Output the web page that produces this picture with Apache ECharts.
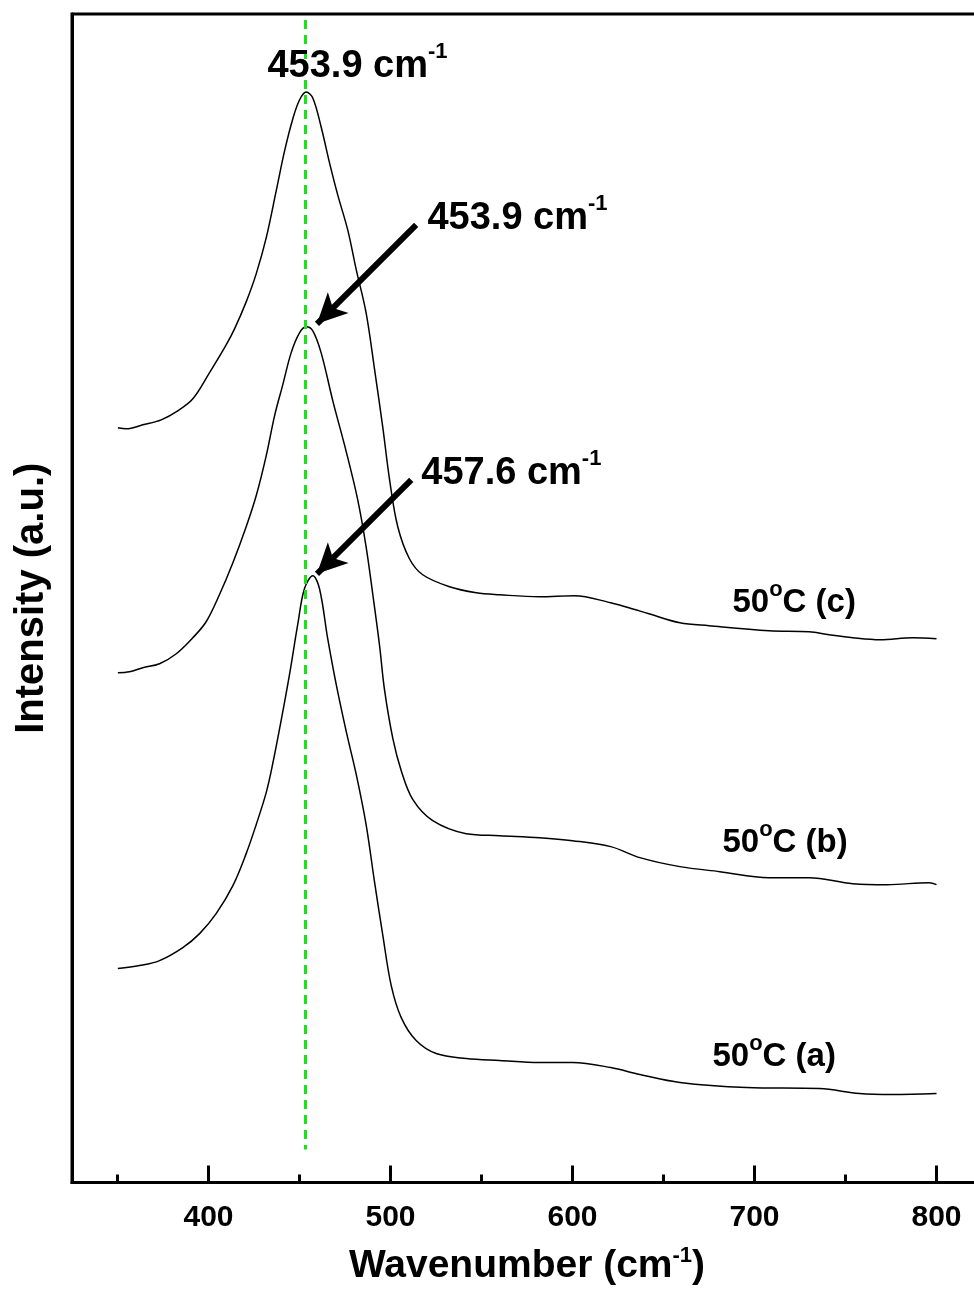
<!DOCTYPE html>
<html>
<head>
<meta charset="utf-8">
<script src="https://cdn.jsdelivr.net/npm/echarts@6/dist/echarts.min.js"></script>
<style>
html,body{margin:0;padding:0;background:#fff;overflow:hidden;}
#chart{width:1000px;height:1291px;}
</style>
</head>
<body>
<div id="chart"></div>
<script>
// Wavenumber (cm^-1) and intensity (a.u.) for the three spectra
const wnA = [350.2,362.1,373.1,385.9,395.1,404.2,413.4,420.7,426.2,431.7,435.3,439.9,444.5,449.1,452.7,457.3,461.0,465.5,470.2,475.7,481.2,486.6,491.2,495.8,500.4,505.9,514.1,525.1,541.6,559.9,581.9,600,621,637,659,695.6,735.7,757.7,775.8,800];
const intA = [214,217,222,235,249,269,297,329,358,390,419,462,508,559,594,607,594,544,498,451,408,358,301,247,197,165,142,129,124,122,120,120,115,108,100,95,94,89,88,89];

const wnB = [350.2,356.6,363.9,373.1,382.3,391.4,398.7,406.0,413.4,420.7,426.2,431.7,436.3,440.8,445.4,450.0,453.7,457.3,461.9,468.3,475.7,482.0,486.6,490.3,494.0,496.7,501.3,505.9,512.3,523.2,541.6,559.9,581.9,600,621,637,659,681,708,730,754,773,796,800];
const intB = [510,511,515,519,529,545,561,588,620,656,687,727,767,798,830,850,856,852,830,782,731,683,636,588,537,493,444,412,383,362,349,347,345,342,336,325,316,311,305,305,299,298,300,298];

const wnC = [350.2,354.8,363.9,374.0,383.1,391.4,400.5,409.7,414.3,420.7,426.2,431.7,437.2,441.8,446.3,450.0,453.7,457.3,461.9,466.5,471.0,476.5,481.2,486.6,491.2,495.8,499.5,504.0,510.4,517.7,532.4,547.1,559.9,581.9,601,621,631,642,659,675,708,730,741,754,769,787,800];
const intC = [755,754,758,763,772,784,810,838,854,881,909,945,992,1032,1064,1083,1091,1085,1056,1020,988,953,913,870,814,755,703,656,624,608,596,590,588,586,587,580,575,569,560,557,552,551,548,545,543,545,544];

const majorTicks = [400,500,600,700,800];
const minorTicks = [350,450,550,650,750];
const seriesNames = ['50°C (a)','50°C (b)','50°C (c)'];
const peakLine = 453.0;

const FONT = "'Liberation Sans', Arial, Helvetica, sans-serif";
const zip = (xs, ys) => xs.map((x, i) => [x, ys[i]]);

const supRich = {
  b: {fontSize: 38, fontWeight: 'bold', color: '#000', fontFamily: FONT, lineHeight: 52},
  s: {fontSize: 22, fontWeight: 'bold', color: '#000', fontFamily: FONT, lineHeight: 20, verticalAlign: 'top'},
  t: {fontSize: 33, fontWeight: 'bold', color: '#000', fontFamily: FONT, lineHeight: 48},
  o: {fontSize: 22, fontWeight: 'bold', color: '#000', fontFamily: FONT, lineHeight: 16, verticalAlign: 'top'}
};

function textMark(coord, fmt) {
  return {coord: coord, label: {formatter: fmt}};
}

const lineStyle = {color: '#000', width: 1.5};
const SMOOTH = 0.35;

const chart = echarts.init(document.getElementById('chart'), null, {renderer: 'canvas', width: 1000, height: 1291});
chart.setOption({
  animation: false,
  backgroundColor: '#fff',
  grid: {left: 72, top: 14, width: 910, height: 1169, show: true, borderColor: '#000', borderWidth: 3, backgroundColor: 'transparent'},
  xAxis: [{
    type: 'value', min: 325, max: 825, position: 'bottom',
    axisLine: {show: true, lineStyle: {color: '#000', width: 3}},
    axisTick: {show: true, inside: true, length: 17, lineStyle: {color: '#000', width: 3}, customValues: majorTicks},
    axisLabel: {show: true, customValues: majorTicks, fontSize: 30, fontWeight: 'bold', color: '#000', fontFamily: FONT, margin: 20},
    splitLine: {show: false},
    name: '{a|Wavenumber (cm}{s|-1}{a|)}',
    nameLocation: 'middle', nameGap: 62,
    nameTextStyle: {rich: {
      a: {fontSize: 39, fontWeight: 'bold', color: '#000', fontFamily: FONT, lineHeight: 44},
      s: {fontSize: 22, fontWeight: 'bold', color: '#000', fontFamily: FONT, lineHeight: 22, verticalAlign: 'top'}
    }}
  }, {
    type: 'value', min: 325, max: 825, position: 'bottom',
    axisLine: {show: false},
    axisTick: {show: true, inside: true, length: 8, lineStyle: {color: '#000', width: 3}, customValues: minorTicks},
    axisLabel: {show: false},
    splitLine: {show: false}
  }],
  yAxis: {
    type: 'value', min: 0, max: 1169,
    axisLine: {show: true, lineStyle: {color: '#000', width: 3}},
    axisTick: {show: false}, axisLabel: {show: false}, splitLine: {show: false},
    name: 'Intensity (a.u.)', nameLocation: 'middle', nameRotate: 90, nameGap: 20,
    nameTextStyle: {fontSize: 40, fontWeight: 'bold', color: '#000', fontFamily: FONT}
  },
  series: [
    {
      name: seriesNames[0], type: 'line', data: zip(wnA, intA), showSymbol: false, symbol: 'none',
      smooth: SMOOTH, lineStyle: lineStyle, silent: true, z: 3,
      markLine: {
        silent: true, animation: false,
        symbol: ['none', 'arrow'], symbolSize: [22, 30],
        label: {show: false},
        lineStyle: {color: '#000', width: 6, type: 'solid'},
        data: [
          [{coord: [514.1, 958]}, {coord: [459.6, 859]}],
          [{coord: [511.4, 703]}, {coord: [459.6, 609]}],
          [{coord: [peakLine, 1163], symbol: 'none', lineStyle: {color: '#14e614', width: 3, type: [9, 6]}},
           {coord: [peakLine, 33], symbol: 'none'}]
        ]
      },
      markPoint: {
        silent: true, animation: false, symbol: 'circle', symbolSize: 1,
        itemStyle: {color: 'rgba(0,0,0,0)'},
        label: {show: true, position: 'inside', align: 'left', verticalAlign: 'middle', rich: supRich},
        data: [
          textMark([432.4, 1116], '{b|453.9 cm}{s|-1}'),
          textMark([520.3, 964], '{b|453.9 cm}{s|-1}'),
          textMark([516.9, 709], '{b|457.6 cm}{s|-1}'),
          textMark([687.9, 580], '{t|50}{o|o}{t|C (c)}'),
          textMark([682.4, 340], '{t|50}{o|o}{t|C (b)}'),
          textMark([676.9, 126], '{t|50}{o|o}{t|C (a)}')
        ]
      }
    },
    {name: seriesNames[1], type: 'line', data: zip(wnB, intB), showSymbol: false, symbol: 'none', smooth: SMOOTH, lineStyle: lineStyle, silent: true, z: 3},
    {name: seriesNames[2], type: 'line', data: zip(wnC, intC), showSymbol: false, symbol: 'none', smooth: SMOOTH, lineStyle: lineStyle, silent: true, z: 3}
  ]
});
</script>
</body>
</html>
